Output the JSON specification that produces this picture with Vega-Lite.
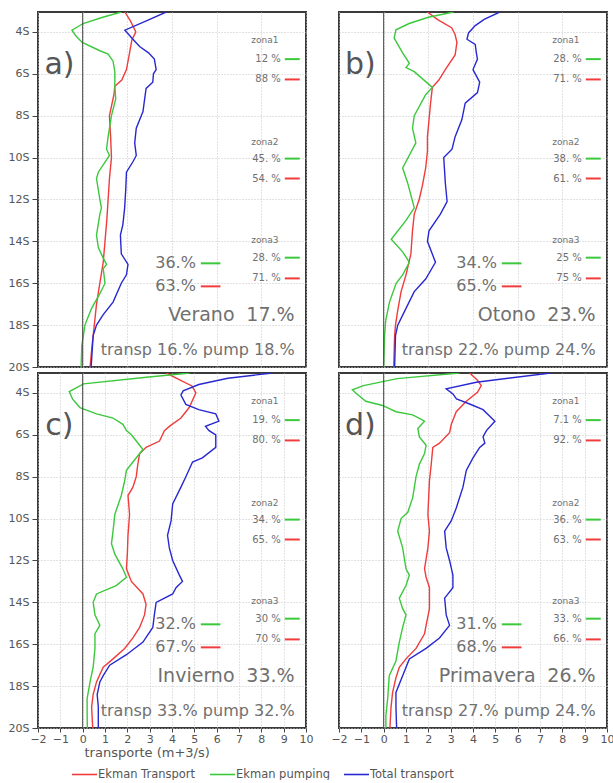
{
  "$schema": "https://vega.github.io/schema/vega-lite/v6.json",
  "padding": {"left": 7, "top": 10, "right": 0, "bottom": 0},
  "autosize": {"type": "pad"},
  "config": {
    "view": {"stroke": "#3a3a3a", "strokeWidth": 2},
    "axis": {"labelColor": "#555", "labelFont": "DejaVu Sans", "labelFontSize": 11, "tickColor": "#444", "gridColor": "#c4c4c4", "gridDash": [1, 2], "domain": false, "titleFont": "DejaVu Sans", "titleColor": "#555", "titleFontWeight": "normal", "titleFontSize": 13, "labelOverlap": false},
    "axisX": {"labelOverlap": false},
    "axisQuantitative": {"labelOverlap": false},
    "text": {"font": "DejaVu Sans", "color": "#707070", "baseline": "middle"}
  },
  "datasets": {
    "lines": [
      {"p":"a","s":"Ekman Transport","lat":-3.05,"v":1.89},{"p":"a","s":"Ekman Transport","lat":-3.5,"v":2.15},{"p":"a","s":"Ekman Transport","lat":-4.0,"v":2.38},{"p":"a","s":"Ekman Transport","lat":-4.4,"v":2.2},{"p":"a","s":"Ekman Transport","lat":-5.0,"v":2.1},{"p":"a","s":"Ekman Transport","lat":-5.8,"v":1.96},{"p":"a","s":"Ekman Transport","lat":-6.3,"v":1.75},{"p":"a","s":"Ekman Transport","lat":-6.6,"v":1.44},{"p":"a","s":"Ekman Transport","lat":-7.0,"v":1.4},{"p":"a","s":"Ekman Transport","lat":-8.0,"v":1.2},{"p":"a","s":"Ekman Transport","lat":-9.0,"v":1.25},{"p":"a","s":"Ekman Transport","lat":-10.0,"v":1.29},{"p":"a","s":"Ekman Transport","lat":-11.0,"v":1.2},{"p":"a","s":"Ekman Transport","lat":-12.0,"v":1.14},{"p":"a","s":"Ekman Transport","lat":-13.0,"v":1.08},{"p":"a","s":"Ekman Transport","lat":-14.0,"v":1.0},{"p":"a","s":"Ekman Transport","lat":-15.0,"v":0.92},{"p":"a","s":"Ekman Transport","lat":-16.0,"v":0.77},{"p":"a","s":"Ekman Transport","lat":-17.0,"v":0.62},{"p":"a","s":"Ekman Transport","lat":-18.0,"v":0.52},{"p":"a","s":"Ekman Transport","lat":-19.0,"v":0.42},{"p":"a","s":"Ekman Transport","lat":-20.0,"v":0.33},
      {"p":"a","s":"Ekman pumping","lat":-3.05,"v":1.74},{"p":"a","s":"Ekman pumping","lat":-3.3,"v":0.9},{"p":"a","s":"Ekman pumping","lat":-3.6,"v":0.02},{"p":"a","s":"Ekman pumping","lat":-3.92,"v":-0.48},{"p":"a","s":"Ekman pumping","lat":-4.2,"v":-0.3},{"p":"a","s":"Ekman pumping","lat":-4.5,"v":-0.02},{"p":"a","s":"Ekman pumping","lat":-4.9,"v":0.77},{"p":"a","s":"Ekman pumping","lat":-5.06,"v":1.14},{"p":"a","s":"Ekman pumping","lat":-5.4,"v":1.36},{"p":"a","s":"Ekman pumping","lat":-5.9,"v":1.44},{"p":"a","s":"Ekman pumping","lat":-6.6,"v":1.44},{"p":"a","s":"Ekman pumping","lat":-7.2,"v":1.48},{"p":"a","s":"Ekman pumping","lat":-8.0,"v":1.29},{"p":"a","s":"Ekman pumping","lat":-9.0,"v":1.14},{"p":"a","s":"Ekman pumping","lat":-9.6,"v":1.07},{"p":"a","s":"Ekman pumping","lat":-9.9,"v":1.2},{"p":"a","s":"Ekman pumping","lat":-10.7,"v":0.7},{"p":"a","s":"Ekman pumping","lat":-11.0,"v":0.62},{"p":"a","s":"Ekman pumping","lat":-12.0,"v":0.77},{"p":"a","s":"Ekman pumping","lat":-12.4,"v":0.84},{"p":"a","s":"Ekman pumping","lat":-12.7,"v":0.77},{"p":"a","s":"Ekman pumping","lat":-13.7,"v":0.62},{"p":"a","s":"Ekman pumping","lat":-14.3,"v":0.7},{"p":"a","s":"Ekman pumping","lat":-14.8,"v":0.92},{"p":"a","s":"Ekman pumping","lat":-15.1,"v":1.07},{"p":"a","s":"Ekman pumping","lat":-15.3,"v":0.92},{"p":"a","s":"Ekman pumping","lat":-16.0,"v":1.0},{"p":"a","s":"Ekman pumping","lat":-16.5,"v":0.77},{"p":"a","s":"Ekman pumping","lat":-17.2,"v":0.4},{"p":"a","s":"Ekman pumping","lat":-18.0,"v":0.1},{"p":"a","s":"Ekman pumping","lat":-18.5,"v":0.03},{"p":"a","s":"Ekman pumping","lat":-19.0,"v":-0.04},{"p":"a","s":"Ekman pumping","lat":-20.0,"v":-0.07},
      {"p":"a","s":"Total transport","lat":-3.05,"v":3.74},{"p":"a","s":"Total transport","lat":-3.5,"v":2.8},{"p":"a","s":"Total transport","lat":-3.92,"v":1.89},{"p":"a","s":"Total transport","lat":-4.35,"v":2.25},{"p":"a","s":"Total transport","lat":-4.7,"v":2.55},{"p":"a","s":"Total transport","lat":-5.0,"v":2.95},{"p":"a","s":"Total transport","lat":-5.3,"v":3.21},{"p":"a","s":"Total transport","lat":-5.8,"v":3.29},{"p":"a","s":"Total transport","lat":-6.0,"v":3.17},{"p":"a","s":"Total transport","lat":-6.4,"v":3.14},{"p":"a","s":"Total transport","lat":-6.7,"v":2.84},{"p":"a","s":"Total transport","lat":-7.8,"v":2.7},{"p":"a","s":"Total transport","lat":-8.6,"v":2.4},{"p":"a","s":"Total transport","lat":-9.3,"v":2.33},{"p":"a","s":"Total transport","lat":-9.9,"v":2.4},{"p":"a","s":"Total transport","lat":-10.2,"v":2.25},{"p":"a","s":"Total transport","lat":-10.7,"v":1.96},{"p":"a","s":"Total transport","lat":-11.5,"v":1.93},{"p":"a","s":"Total transport","lat":-12.4,"v":1.88},{"p":"a","s":"Total transport","lat":-13.2,"v":1.8},{"p":"a","s":"Total transport","lat":-13.7,"v":1.69},{"p":"a","s":"Total transport","lat":-14.6,"v":1.73},{"p":"a","s":"Total transport","lat":-15.1,"v":2.03},{"p":"a","s":"Total transport","lat":-15.6,"v":1.96},{"p":"a","s":"Total transport","lat":-16.0,"v":1.73},{"p":"a","s":"Total transport","lat":-16.9,"v":1.36},{"p":"a","s":"Total transport","lat":-17.5,"v":0.92},{"p":"a","s":"Total transport","lat":-18.0,"v":0.62},{"p":"a","s":"Total transport","lat":-18.5,"v":0.47},{"p":"a","s":"Total transport","lat":-20.0,"v":0.38},

      {"p":"b","s":"Ekman Transport","lat":-3.05,"v":1.96},{"p":"b","s":"Ekman Transport","lat":-3.4,"v":2.4},{"p":"b","s":"Ekman Transport","lat":-3.8,"v":3.04},{"p":"b","s":"Ekman Transport","lat":-4.1,"v":3.19},{"p":"b","s":"Ekman Transport","lat":-4.5,"v":3.28},{"p":"b","s":"Ekman Transport","lat":-5.1,"v":3.2},{"p":"b","s":"Ekman Transport","lat":-5.8,"v":2.76},{"p":"b","s":"Ekman Transport","lat":-6.3,"v":2.47},{"p":"b","s":"Ekman Transport","lat":-6.65,"v":2.18},{"p":"b","s":"Ekman Transport","lat":-7.4,"v":2.1},{"p":"b","s":"Ekman Transport","lat":-8.2,"v":2.03},{"p":"b","s":"Ekman Transport","lat":-9.0,"v":1.96},{"p":"b","s":"Ekman Transport","lat":-9.7,"v":1.96},{"p":"b","s":"Ekman Transport","lat":-10.5,"v":1.88},{"p":"b","s":"Ekman Transport","lat":-11.3,"v":1.74},{"p":"b","s":"Ekman Transport","lat":-12.0,"v":1.59},{"p":"b","s":"Ekman Transport","lat":-12.7,"v":1.37},{"p":"b","s":"Ekman Transport","lat":-13.5,"v":1.29},{"p":"b","s":"Ekman Transport","lat":-14.6,"v":1.22},{"p":"b","s":"Ekman Transport","lat":-15.6,"v":1.0},{"p":"b","s":"Ekman Transport","lat":-16.4,"v":0.78},{"p":"b","s":"Ekman Transport","lat":-17.3,"v":0.63},{"p":"b","s":"Ekman Transport","lat":-18.0,"v":0.53},{"p":"b","s":"Ekman Transport","lat":-18.5,"v":0.49},{"p":"b","s":"Ekman Transport","lat":-20.0,"v":0.45},
      {"p":"b","s":"Ekman pumping","lat":-3.05,"v":3.13},{"p":"b","s":"Ekman pumping","lat":-3.3,"v":2.0},{"p":"b","s":"Ekman pumping","lat":-3.6,"v":1.14},{"p":"b","s":"Ekman pumping","lat":-3.9,"v":0.55},{"p":"b","s":"Ekman pumping","lat":-4.3,"v":0.47},{"p":"b","s":"Ekman pumping","lat":-5.0,"v":0.85},{"p":"b","s":"Ekman pumping","lat":-5.5,"v":1.15},{"p":"b","s":"Ekman pumping","lat":-5.7,"v":1.0},{"p":"b","s":"Ekman pumping","lat":-5.9,"v":1.37},{"p":"b","s":"Ekman pumping","lat":-6.65,"v":2.18},{"p":"b","s":"Ekman pumping","lat":-7.0,"v":1.88},{"p":"b","s":"Ekman pumping","lat":-8.0,"v":1.37},{"p":"b","s":"Ekman pumping","lat":-8.6,"v":1.29},{"p":"b","s":"Ekman pumping","lat":-9.3,"v":1.44},{"p":"b","s":"Ekman pumping","lat":-10.5,"v":0.85},{"p":"b","s":"Ekman pumping","lat":-11.2,"v":1.07},{"p":"b","s":"Ekman pumping","lat":-12.4,"v":1.37},{"p":"b","s":"Ekman pumping","lat":-13.0,"v":1.0},{"p":"b","s":"Ekman pumping","lat":-13.9,"v":0.34},{"p":"b","s":"Ekman pumping","lat":-14.5,"v":0.85},{"p":"b","s":"Ekman pumping","lat":-15.0,"v":1.15},{"p":"b","s":"Ekman pumping","lat":-15.6,"v":0.85},{"p":"b","s":"Ekman pumping","lat":-16.0,"v":0.56},{"p":"b","s":"Ekman pumping","lat":-16.9,"v":0.26},{"p":"b","s":"Ekman pumping","lat":-17.8,"v":0.09},{"p":"b","s":"Ekman pumping","lat":-18.5,"v":0.04},{"p":"b","s":"Ekman pumping","lat":-20.0,"v":0.0},
      {"p":"b","s":"Total transport","lat":-3.05,"v":5.2},{"p":"b","s":"Total transport","lat":-3.4,"v":4.5},{"p":"b","s":"Total transport","lat":-3.7,"v":4.1},{"p":"b","s":"Total transport","lat":-4.05,"v":3.8},{"p":"b","s":"Total transport","lat":-4.35,"v":3.73},{"p":"b","s":"Total transport","lat":-4.6,"v":4.1},{"p":"b","s":"Total transport","lat":-5.0,"v":4.15},{"p":"b","s":"Total transport","lat":-5.3,"v":4.2},{"p":"b","s":"Total transport","lat":-5.8,"v":4.0},{"p":"b","s":"Total transport","lat":-6.4,"v":4.3},{"p":"b","s":"Total transport","lat":-6.9,"v":4.2},{"p":"b","s":"Total transport","lat":-7.4,"v":3.65},{"p":"b","s":"Total transport","lat":-8.2,"v":3.5},{"p":"b","s":"Total transport","lat":-9.0,"v":3.2},{"p":"b","s":"Total transport","lat":-9.6,"v":3.06},{"p":"b","s":"Total transport","lat":-10.0,"v":2.69},{"p":"b","s":"Total transport","lat":-11.2,"v":2.76},{"p":"b","s":"Total transport","lat":-12.1,"v":2.84},{"p":"b","s":"Total transport","lat":-12.7,"v":2.54},{"p":"b","s":"Total transport","lat":-13.5,"v":2.03},{"p":"b","s":"Total transport","lat":-14.0,"v":1.96},{"p":"b","s":"Total transport","lat":-15.0,"v":2.32},{"p":"b","s":"Total transport","lat":-15.8,"v":1.88},{"p":"b","s":"Total transport","lat":-16.4,"v":1.37},{"p":"b","s":"Total transport","lat":-17.2,"v":1.0},{"p":"b","s":"Total transport","lat":-18.0,"v":0.63},{"p":"b","s":"Total transport","lat":-18.5,"v":0.53},{"p":"b","s":"Total transport","lat":-20.0,"v":0.49},

      {"p":"c","s":"Ekman Transport","lat":-3.05,"v":3.74},{"p":"c","s":"Ekman Transport","lat":-3.35,"v":4.3},{"p":"c","s":"Ekman Transport","lat":-3.67,"v":4.89},{"p":"c","s":"Ekman Transport","lat":-4.0,"v":5.07},{"p":"c","s":"Ekman Transport","lat":-4.7,"v":4.77},{"p":"c","s":"Ekman Transport","lat":-5.2,"v":4.4},{"p":"c","s":"Ekman Transport","lat":-5.6,"v":3.88},{"p":"c","s":"Ekman Transport","lat":-5.8,"v":3.66},{"p":"c","s":"Ekman Transport","lat":-6.3,"v":3.44},{"p":"c","s":"Ekman Transport","lat":-6.6,"v":2.84},{"p":"c","s":"Ekman Transport","lat":-6.9,"v":2.55},{"p":"c","s":"Ekman Transport","lat":-7.4,"v":2.47},{"p":"c","s":"Ekman Transport","lat":-8.0,"v":2.4},{"p":"c","s":"Ekman Transport","lat":-8.5,"v":2.25},{"p":"c","s":"Ekman Transport","lat":-8.9,"v":2.03},{"p":"c","s":"Ekman Transport","lat":-9.8,"v":2.1},{"p":"c","s":"Ekman Transport","lat":-10.8,"v":2.03},{"p":"c","s":"Ekman Transport","lat":-11.7,"v":2.0},{"p":"c","s":"Ekman Transport","lat":-12.4,"v":1.96},{"p":"c","s":"Ekman Transport","lat":-13.0,"v":2.18},{"p":"c","s":"Ekman Transport","lat":-13.6,"v":2.7},{"p":"c","s":"Ekman Transport","lat":-14.1,"v":2.84},{"p":"c","s":"Ekman Transport","lat":-14.6,"v":2.77},{"p":"c","s":"Ekman Transport","lat":-15.2,"v":2.55},{"p":"c","s":"Ekman Transport","lat":-15.7,"v":2.25},{"p":"c","s":"Ekman Transport","lat":-16.2,"v":1.88},{"p":"c","s":"Ekman Transport","lat":-16.7,"v":1.36},{"p":"c","s":"Ekman Transport","lat":-17.1,"v":0.92},{"p":"c","s":"Ekman Transport","lat":-17.8,"v":0.62},{"p":"c","s":"Ekman Transport","lat":-18.4,"v":0.47},{"p":"c","s":"Ekman Transport","lat":-19.0,"v":0.4},{"p":"c","s":"Ekman Transport","lat":-20.0,"v":0.45},
      {"p":"c","s":"Ekman pumping","lat":-3.05,"v":4.8},{"p":"c","s":"Ekman pumping","lat":-3.25,"v":2.85},{"p":"c","s":"Ekman pumping","lat":-3.57,"v":0.04},{"p":"c","s":"Ekman pumping","lat":-3.94,"v":-0.6},{"p":"c","s":"Ekman pumping","lat":-4.3,"v":-0.45},{"p":"c","s":"Ekman pumping","lat":-4.7,"v":-0.12},{"p":"c","s":"Ekman pumping","lat":-5.0,"v":0.62},{"p":"c","s":"Ekman pumping","lat":-5.2,"v":1.36},{"p":"c","s":"Ekman pumping","lat":-5.5,"v":1.8},{"p":"c","s":"Ekman pumping","lat":-5.8,"v":1.96},{"p":"c","s":"Ekman pumping","lat":-6.0,"v":2.18},{"p":"c","s":"Ekman pumping","lat":-6.5,"v":2.55},{"p":"c","s":"Ekman pumping","lat":-6.7,"v":2.7},{"p":"c","s":"Ekman pumping","lat":-7.3,"v":2.25},{"p":"c","s":"Ekman pumping","lat":-7.7,"v":1.96},{"p":"c","s":"Ekman pumping","lat":-8.2,"v":1.88},{"p":"c","s":"Ekman pumping","lat":-8.9,"v":1.73},{"p":"c","s":"Ekman pumping","lat":-9.8,"v":1.44},{"p":"c","s":"Ekman pumping","lat":-10.6,"v":1.36},{"p":"c","s":"Ekman pumping","lat":-11.2,"v":1.29},{"p":"c","s":"Ekman pumping","lat":-11.7,"v":1.44},{"p":"c","s":"Ekman pumping","lat":-12.4,"v":1.8},{"p":"c","s":"Ekman pumping","lat":-12.8,"v":1.96},{"p":"c","s":"Ekman pumping","lat":-13.2,"v":1.5},{"p":"c","s":"Ekman pumping","lat":-13.6,"v":0.62},{"p":"c","s":"Ekman pumping","lat":-14.0,"v":0.47},{"p":"c","s":"Ekman pumping","lat":-14.6,"v":0.55},{"p":"c","s":"Ekman pumping","lat":-15.1,"v":0.77},{"p":"c","s":"Ekman pumping","lat":-15.5,"v":0.55},{"p":"c","s":"Ekman pumping","lat":-16.2,"v":0.55},{"p":"c","s":"Ekman pumping","lat":-17.1,"v":0.47},{"p":"c","s":"Ekman pumping","lat":-17.8,"v":0.33},{"p":"c","s":"Ekman pumping","lat":-18.6,"v":0.2},{"p":"c","s":"Ekman pumping","lat":-19.4,"v":0.2},{"p":"c","s":"Ekman pumping","lat":-20.0,"v":0.21},
      {"p":"c","s":"Total transport","lat":-3.05,"v":8.5},{"p":"c","s":"Total transport","lat":-3.3,"v":6.5},{"p":"c","s":"Total transport","lat":-3.6,"v":5.2},{"p":"c","s":"Total transport","lat":-3.9,"v":4.5},{"p":"c","s":"Total transport","lat":-4.1,"v":4.4},{"p":"c","s":"Total transport","lat":-4.55,"v":4.62},{"p":"c","s":"Total transport","lat":-4.8,"v":5.2},{"p":"c","s":"Total transport","lat":-5.0,"v":5.96},{"p":"c","s":"Total transport","lat":-5.35,"v":6.1},{"p":"c","s":"Total transport","lat":-5.6,"v":5.5},{"p":"c","s":"Total transport","lat":-5.8,"v":5.66},{"p":"c","s":"Total transport","lat":-6.0,"v":5.96},{"p":"c","s":"Total transport","lat":-6.6,"v":5.96},{"p":"c","s":"Total transport","lat":-7.1,"v":5.36},{"p":"c","s":"Total transport","lat":-7.3,"v":4.92},{"p":"c","s":"Total transport","lat":-8.0,"v":4.62},{"p":"c","s":"Total transport","lat":-8.5,"v":4.4},{"p":"c","s":"Total transport","lat":-9.3,"v":4.03},{"p":"c","s":"Total transport","lat":-10.1,"v":3.96},{"p":"c","s":"Total transport","lat":-10.8,"v":3.8},{"p":"c","s":"Total transport","lat":-11.4,"v":3.88},{"p":"c","s":"Total transport","lat":-12.0,"v":4.03},{"p":"c","s":"Total transport","lat":-12.7,"v":4.33},{"p":"c","s":"Total transport","lat":-13.0,"v":4.47},{"p":"c","s":"Total transport","lat":-13.3,"v":4.18},{"p":"c","s":"Total transport","lat":-13.6,"v":4.03},{"p":"c","s":"Total transport","lat":-14.0,"v":3.29},{"p":"c","s":"Total transport","lat":-14.6,"v":3.21},{"p":"c","s":"Total transport","lat":-15.2,"v":3.14},{"p":"c","s":"Total transport","lat":-15.9,"v":2.7},{"p":"c","s":"Total transport","lat":-16.5,"v":1.96},{"p":"c","s":"Total transport","lat":-17.0,"v":1.21},{"p":"c","s":"Total transport","lat":-17.5,"v":0.92},{"p":"c","s":"Total transport","lat":-17.8,"v":0.77},{"p":"c","s":"Total transport","lat":-18.4,"v":0.65},{"p":"c","s":"Total transport","lat":-19.0,"v":0.7},{"p":"c","s":"Total transport","lat":-20.0,"v":0.7},

      {"p":"d","s":"Ekman Transport","lat":-3.05,"v":3.85},{"p":"d","s":"Ekman Transport","lat":-3.4,"v":4.2},{"p":"d","s":"Ekman Transport","lat":-3.65,"v":4.37},{"p":"d","s":"Ekman Transport","lat":-3.97,"v":4.2},{"p":"d","s":"Ekman Transport","lat":-4.4,"v":3.7},{"p":"d","s":"Ekman Transport","lat":-4.9,"v":3.25},{"p":"d","s":"Ekman Transport","lat":-5.5,"v":3.03},{"p":"d","s":"Ekman Transport","lat":-5.9,"v":2.95},{"p":"d","s":"Ekman Transport","lat":-6.4,"v":2.5},{"p":"d","s":"Ekman Transport","lat":-6.6,"v":2.2},{"p":"d","s":"Ekman Transport","lat":-7.4,"v":2.13},{"p":"d","s":"Ekman Transport","lat":-8.2,"v":2.05},{"p":"d","s":"Ekman Transport","lat":-9.8,"v":1.98},{"p":"d","s":"Ekman Transport","lat":-10.6,"v":2.05},{"p":"d","s":"Ekman Transport","lat":-11.4,"v":1.98},{"p":"d","s":"Ekman Transport","lat":-12.4,"v":1.83},{"p":"d","s":"Ekman Transport","lat":-12.8,"v":1.9},{"p":"d","s":"Ekman Transport","lat":-13.3,"v":2.05},{"p":"d","s":"Ekman Transport","lat":-14.3,"v":2.05},{"p":"d","s":"Ekman Transport","lat":-15.1,"v":1.9},{"p":"d","s":"Ekman Transport","lat":-15.5,"v":1.83},{"p":"d","s":"Ekman Transport","lat":-16.2,"v":1.45},{"p":"d","s":"Ekman Transport","lat":-16.7,"v":1.0},{"p":"d","s":"Ekman Transport","lat":-17.1,"v":0.7},{"p":"d","s":"Ekman Transport","lat":-17.6,"v":0.55},{"p":"d","s":"Ekman Transport","lat":-18.3,"v":0.4},{"p":"d","s":"Ekman Transport","lat":-19.0,"v":0.33},{"p":"d","s":"Ekman Transport","lat":-20.0,"v":0.28},
      {"p":"d","s":"Ekman pumping","lat":-3.05,"v":3.4},{"p":"d","s":"Ekman pumping","lat":-3.32,"v":0.6},{"p":"d","s":"Ekman pumping","lat":-3.65,"v":-0.9},{"p":"d","s":"Ekman pumping","lat":-3.85,"v":-1.4},{"p":"d","s":"Ekman pumping","lat":-4.05,"v":-1.2},{"p":"d","s":"Ekman pumping","lat":-4.4,"v":-0.8},{"p":"d","s":"Ekman pumping","lat":-4.6,"v":-0.05},{"p":"d","s":"Ekman pumping","lat":-4.9,"v":0.55},{"p":"d","s":"Ekman pumping","lat":-5.05,"v":1.3},{"p":"d","s":"Ekman pumping","lat":-5.35,"v":1.83},{"p":"d","s":"Ekman pumping","lat":-5.7,"v":1.53},{"p":"d","s":"Ekman pumping","lat":-6.1,"v":1.6},{"p":"d","s":"Ekman pumping","lat":-6.5,"v":1.9},{"p":"d","s":"Ekman pumping","lat":-6.9,"v":1.83},{"p":"d","s":"Ekman pumping","lat":-7.4,"v":1.6},{"p":"d","s":"Ekman pumping","lat":-8.0,"v":1.45},{"p":"d","s":"Ekman pumping","lat":-9.0,"v":1.3},{"p":"d","s":"Ekman pumping","lat":-9.7,"v":1.08},{"p":"d","s":"Ekman pumping","lat":-10.0,"v":0.78},{"p":"d","s":"Ekman pumping","lat":-10.6,"v":0.63},{"p":"d","s":"Ekman pumping","lat":-11.4,"v":0.85},{"p":"d","s":"Ekman pumping","lat":-12.4,"v":1.0},{"p":"d","s":"Ekman pumping","lat":-12.7,"v":1.15},{"p":"d","s":"Ekman pumping","lat":-13.2,"v":1.0},{"p":"d","s":"Ekman pumping","lat":-13.8,"v":0.7},{"p":"d","s":"Ekman pumping","lat":-14.3,"v":0.85},{"p":"d","s":"Ekman pumping","lat":-14.6,"v":1.0},{"p":"d","s":"Ekman pumping","lat":-15.2,"v":0.85},{"p":"d","s":"Ekman pumping","lat":-15.9,"v":0.7},{"p":"d","s":"Ekman pumping","lat":-16.8,"v":0.55},{"p":"d","s":"Ekman pumping","lat":-17.5,"v":0.25},{"p":"d","s":"Ekman pumping","lat":-18.6,"v":0.18},{"p":"d","s":"Ekman pumping","lat":-19.4,"v":0.1},{"p":"d","s":"Ekman pumping","lat":-20.0,"v":0.1},
      {"p":"d","s":"Total transport","lat":-3.05,"v":7.48},{"p":"d","s":"Total transport","lat":-3.49,"v":4.15},{"p":"d","s":"Total transport","lat":-3.81,"v":2.8},{"p":"d","s":"Total transport","lat":-4.05,"v":3.1},{"p":"d","s":"Total transport","lat":-4.29,"v":3.26},{"p":"d","s":"Total transport","lat":-4.53,"v":3.85},{"p":"d","s":"Total transport","lat":-4.8,"v":4.45},{"p":"d","s":"Total transport","lat":-5.35,"v":4.98},{"p":"d","s":"Total transport","lat":-5.8,"v":4.6},{"p":"d","s":"Total transport","lat":-6.1,"v":4.45},{"p":"d","s":"Total transport","lat":-6.4,"v":4.53},{"p":"d","s":"Total transport","lat":-6.6,"v":4.3},{"p":"d","s":"Total transport","lat":-7.1,"v":4.0},{"p":"d","s":"Total transport","lat":-7.7,"v":3.7},{"p":"d","s":"Total transport","lat":-8.5,"v":3.55},{"p":"d","s":"Total transport","lat":-9.5,"v":3.25},{"p":"d","s":"Total transport","lat":-10.1,"v":3.03},{"p":"d","s":"Total transport","lat":-10.6,"v":2.73},{"p":"d","s":"Total transport","lat":-11.4,"v":2.8},{"p":"d","s":"Total transport","lat":-12.0,"v":2.95},{"p":"d","s":"Total transport","lat":-12.7,"v":3.1},{"p":"d","s":"Total transport","lat":-13.3,"v":3.1},{"p":"d","s":"Total transport","lat":-13.8,"v":2.73},{"p":"d","s":"Total transport","lat":-14.6,"v":2.8},{"p":"d","s":"Total transport","lat":-15.1,"v":2.95},{"p":"d","s":"Total transport","lat":-15.7,"v":2.5},{"p":"d","s":"Total transport","lat":-16.2,"v":1.9},{"p":"d","s":"Total transport","lat":-16.7,"v":1.15},{"p":"d","s":"Total transport","lat":-17.5,"v":0.85},{"p":"d","s":"Total transport","lat":-18.3,"v":0.55},{"p":"d","s":"Total transport","lat":-19.0,"v":0.55},{"p":"d","s":"Total transport","lat":-20.0,"v":0.58}
    ],
    "texts": [
      {"p":"a","k":"letter","t":"a)","lat":-5.6},
      {"p":"a","k":"zona","t":"zona1","lat":-4.41},{"p":"a","k":"zona","t":"zona2","lat":-9.26},{"p":"a","k":"zona","t":"zona3","lat":-13.92},
      {"p":"a","k":"small","s":"Ekman pumping","t":"12 %","lat":-5.3},{"p":"a","k":"small","s":"Ekman Transport","t":"88 %","lat":-6.27},
      {"p":"a","k":"small","s":"Ekman pumping","t":"45. %","lat":-10.05},{"p":"a","k":"small","s":"Ekman Transport","t":"54. %","lat":-11.0},
      {"p":"a","k":"small","s":"Ekman pumping","t":"28. %","lat":-14.78},{"p":"a","k":"small","s":"Ekman Transport","t":"71. %","lat":-15.77},
      {"p":"a","k":"big","s":"Ekman pumping","t":"36.%","lat":-15.05},{"p":"a","k":"big","s":"Ekman Transport","t":"63.%","lat":-16.15},
      {"p":"a","k":"season","t":"Verano","lat":-17.5},{"p":"a","k":"spct","t":"17.%","lat":-17.5},
      {"p":"a","k":"bottom","t":"transp 16.% pump 18.%","lat":-19.2},

      {"p":"b","k":"letter","t":"b)","lat":-5.6},
      {"p":"b","k":"zona","t":"zona1","lat":-4.41},{"p":"b","k":"zona","t":"zona2","lat":-9.26},{"p":"b","k":"zona","t":"zona3","lat":-13.92},
      {"p":"b","k":"small","s":"Ekman pumping","t":"28. %","lat":-5.3},{"p":"b","k":"small","s":"Ekman Transport","t":"71. %","lat":-6.27},
      {"p":"b","k":"small","s":"Ekman pumping","t":"38. %","lat":-10.05},{"p":"b","k":"small","s":"Ekman Transport","t":"61. %","lat":-11.0},
      {"p":"b","k":"small","s":"Ekman pumping","t":"25 %","lat":-14.78},{"p":"b","k":"small","s":"Ekman Transport","t":"75 %","lat":-15.77},
      {"p":"b","k":"big","s":"Ekman pumping","t":"34.%","lat":-15.05},{"p":"b","k":"big","s":"Ekman Transport","t":"65.%","lat":-16.15},
      {"p":"b","k":"season","t":"Otono","lat":-17.5},{"p":"b","k":"spct","t":"23.%","lat":-17.5},
      {"p":"b","k":"bottom","t":"transp 22.% pump 24.%","lat":-19.2},

      {"p":"c","k":"letter","t":"c)","lat":-5.6},
      {"p":"c","k":"zona","t":"zona1","lat":-4.41},{"p":"c","k":"zona","t":"zona2","lat":-9.26},{"p":"c","k":"zona","t":"zona3","lat":-13.92},
      {"p":"c","k":"small","s":"Ekman pumping","t":"19. %","lat":-5.3},{"p":"c","k":"small","s":"Ekman Transport","t":"80. %","lat":-6.27},
      {"p":"c","k":"small","s":"Ekman pumping","t":"34. %","lat":-10.05},{"p":"c","k":"small","s":"Ekman Transport","t":"65. %","lat":-11.0},
      {"p":"c","k":"small","s":"Ekman pumping","t":"30 %","lat":-14.78},{"p":"c","k":"small","s":"Ekman Transport","t":"70 %","lat":-15.77},
      {"p":"c","k":"big","s":"Ekman pumping","t":"32.%","lat":-15.05},{"p":"c","k":"big","s":"Ekman Transport","t":"67.%","lat":-16.15},
      {"p":"c","k":"season","t":"Invierno","lat":-17.5},{"p":"c","k":"spct","t":"33.%","lat":-17.5},
      {"p":"c","k":"bottom","t":"transp 33.% pump 32.%","lat":-19.2},

      {"p":"d","k":"letter","t":"d)","lat":-5.6},
      {"p":"d","k":"zona","t":"zona1","lat":-4.41},{"p":"d","k":"zona","t":"zona2","lat":-9.26},{"p":"d","k":"zona","t":"zona3","lat":-13.92},
      {"p":"d","k":"small","s":"Ekman pumping","t":"7.1 %","lat":-5.3},{"p":"d","k":"small","s":"Ekman Transport","t":"92. %","lat":-6.27},
      {"p":"d","k":"small","s":"Ekman pumping","t":"36. %","lat":-10.05},{"p":"d","k":"small","s":"Ekman Transport","t":"63. %","lat":-11.0},
      {"p":"d","k":"small","s":"Ekman pumping","t":"33. %","lat":-14.78},{"p":"d","k":"small","s":"Ekman Transport","t":"66. %","lat":-15.77},
      {"p":"d","k":"big","s":"Ekman pumping","t":"31.%","lat":-15.05},{"p":"d","k":"big","s":"Ekman Transport","t":"68.%","lat":-16.15},
      {"p":"d","k":"season","t":"Primavera","lat":-17.5},{"p":"d","k":"spct","t":"26.%","lat":-17.5},
      {"p":"d","k":"bottom","t":"transp 27.% pump 24.%","lat":-19.2}
    ]
  },
  "columns": 2,
  "spacing": {"row": 6, "column": 33},
  "bounds": "flush",
  "concat": [
    {
      "width": 268, "height": 355,
      "layer": [
        {"data": {"name": "lines"}, "transform": [{"filter": "datum.p == 'a'"}],
         "mark": {"type": "line", "strokeWidth": 1.4, "clip": true},
         "encoding": {
           "x": {"field": "v", "type": "quantitative", "scale": {"domain": [-2, 10], "nice": false, "zero": false}, "axis": {"values": [-2,-1,0,1,2,3,4,5,6,7,8,9,10], "grid": true, "labels": false, "ticks": false, "title": null}},
           "y": {"field": "lat", "type": "quantitative", "scale": {"domain": [-20, -3.05], "nice": false, "zero": false}, "axis": {"values": [-20,-18,-16,-14,-12,-10,-8,-6,-4], "grid": true, "labelExpr": "(-datum.value) + 'S'", "tickSize": 6, "labelPadding": 3, "title": null}},
           "color": {"field": "s", "type": "nominal", "scale": {"domain": ["Ekman Transport", "Ekman pumping", "Total transport"], "range": ["#f03c3c", "#3cc83c", "#2828d2"]}, "legend": {"orient": "none", "legendX": 33, "legendY": 749, "direction": "horizontal", "title": null, "symbolType": "stroke", "symbolSize": 625, "symbolStrokeWidth": 1.6, "labelFontSize": 11.5, "labelColor": "#555", "labelFont": "DejaVu Sans", "columnPadding": 10, "labelOffset": 0}},
           "order": {"field": "lat"}
         }},
        {"data": {"values": [{}]}, "mark": {"type": "rule", "color": "#444", "strokeWidth": 1}, "encoding": {"x": {"datum": 0, "type": "quantitative"}}},
        {"data": {"name": "texts"}, "transform": [{"filter": "datum.p == 'a' && datum.k == 'letter'"}], "mark": {"type": "text", "fontSize": 30, "align": "center", "color": "#555"}, "encoding": {"x": {"datum": -1.04, "type": "quantitative"}, "y": {"field": "lat", "type": "quantitative"}, "text": {"field": "t"}}},
        {"data": {"name": "texts"}, "transform": [{"filter": "datum.p == 'a' && datum.k == 'zona'"}], "mark": {"type": "text", "fontSize": 9, "align": "left"}, "encoding": {"x": {"datum": 7.55, "type": "quantitative"}, "y": {"field": "lat", "type": "quantitative"}, "text": {"field": "t"}}},
        {"data": {"name": "texts"}, "transform": [{"filter": "datum.p == 'a' && datum.k == 'small'"}], "mark": {"type": "text", "fontSize": 10, "align": "right"}, "encoding": {"x": {"datum": 8.87, "type": "quantitative"}, "y": {"field": "lat", "type": "quantitative"}, "text": {"field": "t"}}},
        {"data": {"name": "texts"}, "transform": [{"filter": "datum.p == 'a' && datum.k == 'small'"}], "mark": {"type": "rule", "strokeWidth": 2}, "encoding": {"x": {"datum": 9.05, "type": "quantitative"}, "x2": {"datum": 9.72}, "y": {"field": "lat", "type": "quantitative"}, "color": {"field": "s", "type": "nominal", "legend": null}}},
        {"data": {"name": "texts"}, "transform": [{"filter": "datum.p == 'a' && datum.k == 'big'"}], "mark": {"type": "text", "fontSize": 16, "align": "right"}, "encoding": {"x": {"datum": 5.07, "type": "quantitative"}, "y": {"field": "lat", "type": "quantitative"}, "text": {"field": "t"}}},
        {"data": {"name": "texts"}, "transform": [{"filter": "datum.p == 'a' && datum.k == 'big'"}], "mark": {"type": "rule", "strokeWidth": 2}, "encoding": {"x": {"datum": 5.29, "type": "quantitative"}, "x2": {"datum": 6.17}, "y": {"field": "lat", "type": "quantitative"}, "color": {"field": "s", "type": "nominal", "legend": null}}},
        {"data": {"name": "texts"}, "transform": [{"filter": "datum.p == 'a' && datum.k == 'season'"}], "mark": {"type": "text", "fontSize": 19, "align": "right"}, "encoding": {"x": {"datum": 6.8, "type": "quantitative"}, "y": {"field": "lat", "type": "quantitative"}, "text": {"field": "t"}}},
        {"data": {"name": "texts"}, "transform": [{"filter": "datum.p == 'a' && (datum.k == 'spct' || datum.k == 'bottom')"}], "mark": {"type": "text", "align": "right"}, "encoding": {"x": {"datum": 9.49, "type": "quantitative"}, "y": {"field": "lat", "type": "quantitative"}, "text": {"field": "t"}, "size": {"condition": {"test": "datum.k == 'spct'", "value": 19}, "value": 16}}}
      ]
    },
    {
      "width": 268, "height": 355,
      "layer": [
        {"data": {"name": "lines"}, "transform": [{"filter": "datum.p == 'b'"}],
         "mark": {"type": "line", "strokeWidth": 1.4, "clip": true},
         "encoding": {
           "x": {"field": "v", "type": "quantitative", "scale": {"domain": [-2, 10], "nice": false, "zero": false}, "axis": {"values": [-2,-1,0,1,2,3,4,5,6,7,8,9,10], "grid": true, "labels": false, "ticks": false, "title": null}},
           "y": {"field": "lat", "type": "quantitative", "scale": {"domain": [-20, -3.05], "nice": false, "zero": false}, "axis": {"values": [-20,-18,-16,-14,-12,-10,-8,-6,-4], "grid": true, "labels": false, "ticks": false, "title": null}},
           "color": {"field": "s", "type": "nominal", "scale": {"domain": ["Ekman Transport", "Ekman pumping", "Total transport"], "range": ["#f03c3c", "#3cc83c", "#2828d2"]}, "legend": {"orient": "none", "legendX": 33, "legendY": 749, "direction": "horizontal", "title": null, "symbolType": "stroke", "symbolSize": 625, "symbolStrokeWidth": 1.6, "labelFontSize": 11.5, "labelColor": "#555", "labelFont": "DejaVu Sans", "columnPadding": 10, "labelOffset": 0}},
           "order": {"field": "lat"}
         }},
        {"data": {"values": [{}]}, "mark": {"type": "rule", "color": "#444", "strokeWidth": 1}, "encoding": {"x": {"datum": 0, "type": "quantitative"}}},
        {"data": {"name": "texts"}, "transform": [{"filter": "datum.p == 'b' && datum.k == 'letter'"}], "mark": {"type": "text", "fontSize": 30, "align": "center", "color": "#555"}, "encoding": {"x": {"datum": -1.04, "type": "quantitative"}, "y": {"field": "lat", "type": "quantitative"}, "text": {"field": "t"}}},
        {"data": {"name": "texts"}, "transform": [{"filter": "datum.p == 'b' && datum.k == 'zona'"}], "mark": {"type": "text", "fontSize": 9, "align": "left"}, "encoding": {"x": {"datum": 7.55, "type": "quantitative"}, "y": {"field": "lat", "type": "quantitative"}, "text": {"field": "t"}}},
        {"data": {"name": "texts"}, "transform": [{"filter": "datum.p == 'b' && datum.k == 'small'"}], "mark": {"type": "text", "fontSize": 10, "align": "right"}, "encoding": {"x": {"datum": 8.87, "type": "quantitative"}, "y": {"field": "lat", "type": "quantitative"}, "text": {"field": "t"}}},
        {"data": {"name": "texts"}, "transform": [{"filter": "datum.p == 'b' && datum.k == 'small'"}], "mark": {"type": "rule", "strokeWidth": 2}, "encoding": {"x": {"datum": 9.05, "type": "quantitative"}, "x2": {"datum": 9.72}, "y": {"field": "lat", "type": "quantitative"}, "color": {"field": "s", "type": "nominal", "legend": null}}},
        {"data": {"name": "texts"}, "transform": [{"filter": "datum.p == 'b' && datum.k == 'big'"}], "mark": {"type": "text", "fontSize": 16, "align": "right"}, "encoding": {"x": {"datum": 5.07, "type": "quantitative"}, "y": {"field": "lat", "type": "quantitative"}, "text": {"field": "t"}}},
        {"data": {"name": "texts"}, "transform": [{"filter": "datum.p == 'b' && datum.k == 'big'"}], "mark": {"type": "rule", "strokeWidth": 2}, "encoding": {"x": {"datum": 5.29, "type": "quantitative"}, "x2": {"datum": 6.17}, "y": {"field": "lat", "type": "quantitative"}, "color": {"field": "s", "type": "nominal", "legend": null}}},
        {"data": {"name": "texts"}, "transform": [{"filter": "datum.p == 'b' && datum.k == 'season'"}], "mark": {"type": "text", "fontSize": 19, "align": "right"}, "encoding": {"x": {"datum": 6.8, "type": "quantitative"}, "y": {"field": "lat", "type": "quantitative"}, "text": {"field": "t"}}},
        {"data": {"name": "texts"}, "transform": [{"filter": "datum.p == 'b' && (datum.k == 'spct' || datum.k == 'bottom')"}], "mark": {"type": "text", "align": "right"}, "encoding": {"x": {"datum": 9.49, "type": "quantitative"}, "y": {"field": "lat", "type": "quantitative"}, "text": {"field": "t"}, "size": {"condition": {"test": "datum.k == 'spct'", "value": 19}, "value": 16}}}
      ]
    },
    {
      "width": 268, "height": 355,
      "layer": [
        {"data": {"name": "lines"}, "transform": [{"filter": "datum.p == 'c'"}],
         "mark": {"type": "line", "strokeWidth": 1.4, "clip": true},
         "encoding": {
           "x": {"field": "v", "type": "quantitative", "scale": {"domain": [-2, 10], "nice": false, "zero": false}, "axis": {"values": [-2,-1,0,1,2,3,4,5,6,7,8,9,10], "grid": true, "tickSize": 4, "labelPadding": 1, "labelOverlap": false, "labelFlush": false, "title": "transporte  (m+3/s)", "titleX": 46, "titleY": 18, "titleAlign": "left", "titleBaseline": "top"}},
           "y": {"field": "lat", "type": "quantitative", "scale": {"domain": [-20, -3.05], "nice": false, "zero": false}, "axis": {"values": [-20,-18,-16,-14,-12,-10,-8,-6,-4], "grid": true, "labelExpr": "(-datum.value) + 'S'", "tickSize": 6, "labelPadding": 3, "title": null}},
           "color": {"field": "s", "type": "nominal", "scale": {"domain": ["Ekman Transport", "Ekman pumping", "Total transport"], "range": ["#f03c3c", "#3cc83c", "#2828d2"]}, "legend": {"orient": "none", "legendX": 33, "legendY": 749, "direction": "horizontal", "title": null, "symbolType": "stroke", "symbolSize": 625, "symbolStrokeWidth": 1.6, "labelFontSize": 11.5, "labelColor": "#555", "labelFont": "DejaVu Sans", "columnPadding": 10, "labelOffset": 0}},
           "order": {"field": "lat"}
         }},
        {"data": {"values": [{}]}, "mark": {"type": "rule", "color": "#444", "strokeWidth": 1}, "encoding": {"x": {"datum": 0, "type": "quantitative", "axis": {"values": [-2,-1,0,1,2,3,4,5,6,7,8,9,10], "grid": true, "tickSize": 4, "labelPadding": 1, "labelOverlap": false, "labelFlush": false, "title": "transporte  (m+3/s)", "titleX": 46, "titleY": 18, "titleAlign": "left", "titleBaseline": "top"}}}},
        {"data": {"name": "texts"}, "transform": [{"filter": "datum.p == 'c' && datum.k == 'letter'"}], "mark": {"type": "text", "fontSize": 30, "align": "center", "color": "#555"}, "encoding": {"x": {"datum": -1.04, "type": "quantitative", "axis": {"values": [-2,-1,0,1,2,3,4,5,6,7,8,9,10], "grid": true, "tickSize": 4, "labelPadding": 1, "labelOverlap": false, "labelFlush": false, "title": "transporte  (m+3/s)", "titleX": 46, "titleY": 18, "titleAlign": "left", "titleBaseline": "top"}}, "y": {"field": "lat", "type": "quantitative"}, "text": {"field": "t"}}},
        {"data": {"name": "texts"}, "transform": [{"filter": "datum.p == 'c' && datum.k == 'zona'"}], "mark": {"type": "text", "fontSize": 9, "align": "left"}, "encoding": {"x": {"datum": 7.55, "type": "quantitative", "axis": {"values": [-2,-1,0,1,2,3,4,5,6,7,8,9,10], "grid": true, "tickSize": 4, "labelPadding": 1, "labelOverlap": false, "labelFlush": false, "title": "transporte  (m+3/s)", "titleX": 46, "titleY": 18, "titleAlign": "left", "titleBaseline": "top"}}, "y": {"field": "lat", "type": "quantitative"}, "text": {"field": "t"}}},
        {"data": {"name": "texts"}, "transform": [{"filter": "datum.p == 'c' && datum.k == 'small'"}], "mark": {"type": "text", "fontSize": 10, "align": "right"}, "encoding": {"x": {"datum": 8.87, "type": "quantitative", "axis": {"values": [-2,-1,0,1,2,3,4,5,6,7,8,9,10], "grid": true, "tickSize": 4, "labelPadding": 1, "labelOverlap": false, "labelFlush": false, "title": "transporte  (m+3/s)", "titleX": 46, "titleY": 18, "titleAlign": "left", "titleBaseline": "top"}}, "y": {"field": "lat", "type": "quantitative"}, "text": {"field": "t"}}},
        {"data": {"name": "texts"}, "transform": [{"filter": "datum.p == 'c' && datum.k == 'small'"}], "mark": {"type": "rule", "strokeWidth": 2}, "encoding": {"x": {"datum": 9.05, "type": "quantitative", "axis": {"values": [-2,-1,0,1,2,3,4,5,6,7,8,9,10], "grid": true, "tickSize": 4, "labelPadding": 1, "labelOverlap": false, "labelFlush": false, "title": "transporte  (m+3/s)", "titleX": 46, "titleY": 18, "titleAlign": "left", "titleBaseline": "top"}}, "x2": {"datum": 9.72}, "y": {"field": "lat", "type": "quantitative"}, "color": {"field": "s", "type": "nominal", "legend": null}}},
        {"data": {"name": "texts"}, "transform": [{"filter": "datum.p == 'c' && datum.k == 'big'"}], "mark": {"type": "text", "fontSize": 16, "align": "right"}, "encoding": {"x": {"datum": 5.07, "type": "quantitative", "axis": {"values": [-2,-1,0,1,2,3,4,5,6,7,8,9,10], "grid": true, "tickSize": 4, "labelPadding": 1, "labelOverlap": false, "labelFlush": false, "title": "transporte  (m+3/s)", "titleX": 46, "titleY": 18, "titleAlign": "left", "titleBaseline": "top"}}, "y": {"field": "lat", "type": "quantitative"}, "text": {"field": "t"}}},
        {"data": {"name": "texts"}, "transform": [{"filter": "datum.p == 'c' && datum.k == 'big'"}], "mark": {"type": "rule", "strokeWidth": 2}, "encoding": {"x": {"datum": 5.29, "type": "quantitative", "axis": {"values": [-2,-1,0,1,2,3,4,5,6,7,8,9,10], "grid": true, "tickSize": 4, "labelPadding": 1, "labelOverlap": false, "labelFlush": false, "title": "transporte  (m+3/s)", "titleX": 46, "titleY": 18, "titleAlign": "left", "titleBaseline": "top"}}, "x2": {"datum": 6.17}, "y": {"field": "lat", "type": "quantitative"}, "color": {"field": "s", "type": "nominal", "legend": null}}},
        {"data": {"name": "texts"}, "transform": [{"filter": "datum.p == 'c' && datum.k == 'season'"}], "mark": {"type": "text", "fontSize": 19, "align": "right"}, "encoding": {"x": {"datum": 6.8, "type": "quantitative", "axis": {"values": [-2,-1,0,1,2,3,4,5,6,7,8,9,10], "grid": true, "tickSize": 4, "labelPadding": 1, "labelOverlap": false, "labelFlush": false, "title": "transporte  (m+3/s)", "titleX": 46, "titleY": 18, "titleAlign": "left", "titleBaseline": "top"}}, "y": {"field": "lat", "type": "quantitative"}, "text": {"field": "t"}}},
        {"data": {"name": "texts"}, "transform": [{"filter": "datum.p == 'c' && (datum.k == 'spct' || datum.k == 'bottom')"}], "mark": {"type": "text", "align": "right"}, "encoding": {"x": {"datum": 9.49, "type": "quantitative", "axis": {"values": [-2,-1,0,1,2,3,4,5,6,7,8,9,10], "grid": true, "tickSize": 4, "labelPadding": 1, "labelOverlap": false, "labelFlush": false, "title": "transporte  (m+3/s)", "titleX": 46, "titleY": 18, "titleAlign": "left", "titleBaseline": "top"}}, "y": {"field": "lat", "type": "quantitative"}, "text": {"field": "t"}, "size": {"condition": {"test": "datum.k == 'spct'", "value": 19}, "value": 16}}}
      ]
    },
    {
      "width": 268, "height": 355,
      "layer": [
        {"data": {"name": "lines"}, "transform": [{"filter": "datum.p == 'd'"}],
         "mark": {"type": "line", "strokeWidth": 1.4, "clip": true},
         "encoding": {
           "x": {"field": "v", "type": "quantitative", "scale": {"domain": [-2, 10], "nice": false, "zero": false}, "axis": {"values": [-2,-1,0,1,2,3,4,5,6,7,8,9,10], "grid": true, "tickSize": 4, "labelPadding": 1, "labelOverlap": false, "labelFlush": false, "title": null}},
           "y": {"field": "lat", "type": "quantitative", "scale": {"domain": [-20, -3.05], "nice": false, "zero": false}, "axis": {"values": [-20,-18,-16,-14,-12,-10,-8,-6,-4], "grid": true, "labels": false, "ticks": false, "title": null}},
           "color": {"field": "s", "type": "nominal", "scale": {"domain": ["Ekman Transport", "Ekman pumping", "Total transport"], "range": ["#f03c3c", "#3cc83c", "#2828d2"]}, "legend": {"orient": "none", "legendX": 33, "legendY": 749, "direction": "horizontal", "title": null, "symbolType": "stroke", "symbolSize": 625, "symbolStrokeWidth": 1.6, "labelFontSize": 11.5, "labelColor": "#555", "labelFont": "DejaVu Sans", "columnPadding": 10, "labelOffset": 0}},
           "order": {"field": "lat"}
         }},
        {"data": {"values": [{}]}, "mark": {"type": "rule", "color": "#444", "strokeWidth": 1}, "encoding": {"x": {"datum": 0, "type": "quantitative", "axis": {"values": [-2,-1,0,1,2,3,4,5,6,7,8,9,10], "grid": true, "tickSize": 4, "labelPadding": 1, "labelOverlap": false, "labelFlush": false, "title": null}}}},
        {"data": {"name": "texts"}, "transform": [{"filter": "datum.p == 'd' && datum.k == 'letter'"}], "mark": {"type": "text", "fontSize": 30, "align": "center", "color": "#555"}, "encoding": {"x": {"datum": -1.04, "type": "quantitative", "axis": {"values": [-2,-1,0,1,2,3,4,5,6,7,8,9,10], "grid": true, "tickSize": 4, "labelPadding": 1, "labelOverlap": false, "labelFlush": false, "title": null}}, "y": {"field": "lat", "type": "quantitative"}, "text": {"field": "t"}}},
        {"data": {"name": "texts"}, "transform": [{"filter": "datum.p == 'd' && datum.k == 'zona'"}], "mark": {"type": "text", "fontSize": 9, "align": "left"}, "encoding": {"x": {"datum": 7.55, "type": "quantitative", "axis": {"values": [-2,-1,0,1,2,3,4,5,6,7,8,9,10], "grid": true, "tickSize": 4, "labelPadding": 1, "labelOverlap": false, "labelFlush": false, "title": null}}, "y": {"field": "lat", "type": "quantitative"}, "text": {"field": "t"}}},
        {"data": {"name": "texts"}, "transform": [{"filter": "datum.p == 'd' && datum.k == 'small'"}], "mark": {"type": "text", "fontSize": 10, "align": "right"}, "encoding": {"x": {"datum": 8.87, "type": "quantitative", "axis": {"values": [-2,-1,0,1,2,3,4,5,6,7,8,9,10], "grid": true, "tickSize": 4, "labelPadding": 1, "labelOverlap": false, "labelFlush": false, "title": null}}, "y": {"field": "lat", "type": "quantitative"}, "text": {"field": "t"}}},
        {"data": {"name": "texts"}, "transform": [{"filter": "datum.p == 'd' && datum.k == 'small'"}], "mark": {"type": "rule", "strokeWidth": 2}, "encoding": {"x": {"datum": 9.05, "type": "quantitative", "axis": {"values": [-2,-1,0,1,2,3,4,5,6,7,8,9,10], "grid": true, "tickSize": 4, "labelPadding": 1, "labelOverlap": false, "labelFlush": false, "title": null}}, "x2": {"datum": 9.72}, "y": {"field": "lat", "type": "quantitative"}, "color": {"field": "s", "type": "nominal", "legend": null}}},
        {"data": {"name": "texts"}, "transform": [{"filter": "datum.p == 'd' && datum.k == 'big'"}], "mark": {"type": "text", "fontSize": 16, "align": "right"}, "encoding": {"x": {"datum": 5.07, "type": "quantitative", "axis": {"values": [-2,-1,0,1,2,3,4,5,6,7,8,9,10], "grid": true, "tickSize": 4, "labelPadding": 1, "labelOverlap": false, "labelFlush": false, "title": null}}, "y": {"field": "lat", "type": "quantitative"}, "text": {"field": "t"}}},
        {"data": {"name": "texts"}, "transform": [{"filter": "datum.p == 'd' && datum.k == 'big'"}], "mark": {"type": "rule", "strokeWidth": 2}, "encoding": {"x": {"datum": 5.29, "type": "quantitative", "axis": {"values": [-2,-1,0,1,2,3,4,5,6,7,8,9,10], "grid": true, "tickSize": 4, "labelPadding": 1, "labelOverlap": false, "labelFlush": false, "title": null}}, "x2": {"datum": 6.17}, "y": {"field": "lat", "type": "quantitative"}, "color": {"field": "s", "type": "nominal", "legend": null}}},
        {"data": {"name": "texts"}, "transform": [{"filter": "datum.p == 'd' && datum.k == 'season'"}], "mark": {"type": "text", "fontSize": 19, "align": "right"}, "encoding": {"x": {"datum": 6.8, "type": "quantitative", "axis": {"values": [-2,-1,0,1,2,3,4,5,6,7,8,9,10], "grid": true, "tickSize": 4, "labelPadding": 1, "labelOverlap": false, "labelFlush": false, "title": null}}, "y": {"field": "lat", "type": "quantitative"}, "text": {"field": "t"}}},
        {"data": {"name": "texts"}, "transform": [{"filter": "datum.p == 'd' && (datum.k == 'spct' || datum.k == 'bottom')"}], "mark": {"type": "text", "align": "right"}, "encoding": {"x": {"datum": 9.49, "type": "quantitative", "axis": {"values": [-2,-1,0,1,2,3,4,5,6,7,8,9,10], "grid": true, "tickSize": 4, "labelPadding": 1, "labelOverlap": false, "labelFlush": false, "title": null}}, "y": {"field": "lat", "type": "quantitative"}, "text": {"field": "t"}, "size": {"condition": {"test": "datum.k == 'spct'", "value": 19}, "value": 16}}}
      ]
    }
  ]
}
